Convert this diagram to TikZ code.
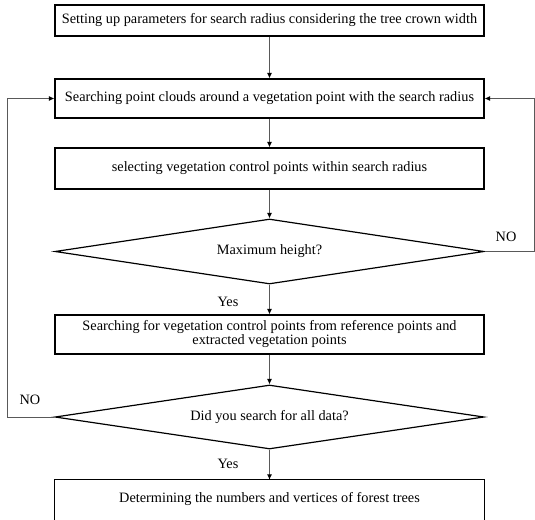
\documentclass[tikz,border=0pt]{standalone}
\usepackage{fontspec}
\setmainfont{Liberation Serif}
\usetikzlibrary{arrows.meta,shapes.geometric}
\begin{document}
\begin{tikzpicture}[x=1pt,y=-1pt,
  font=\fontsize{14.3}{15.5}\selectfont,
  box/.style={draw=black,line width=1.2pt,minimum width=429pt,inner sep=0pt,align=center},
  dec/.style={draw=black,line width=1.2pt,diamond,shape aspect=6.6,minimum width=429pt,inner sep=0pt},
  conn/.style={draw=black!65,line width=0.9pt},
  arr/.style={conn,-{Latex[length=5.5pt,width=5pt,color=black]}},
  lab/.style={inner sep=0pt}]
\useasboundingbox (0,0) rectangle (535,519);
\node[box,minimum height=31pt] (b1) at (269.5,20.5) {Setting up parameters for search radius considering the tree crown width};
\node[box,minimum height=39pt] (b2) at (269.5,98.5) {Searching point clouds around a vegetation point with the search radius};
\node[box,minimum height=41pt] (b3) at (269.5,168.5) {selecting vegetation control points within search radius};
\node[dec,minimum height=65pt] (d1) at (269.5,251.5) {Maximum height?};
\node[box,minimum height=39pt,align=center] (b4) at (269.5,334.5) {Searching for vegetation control points from reference points and\\[-1.5pt] extracted vegetation points};
\node[dec,minimum height=64pt] (d2) at (269.5,417) {Did you search for all data?};
\node[minimum width=429pt,minimum height=38pt,inner sep=0pt] (b5) at (269.5,499) {Determining the numbers and vertices of forest trees};
\draw[line width=1.2pt] ([yshift=-20pt]b5.south west) -- (b5.north west) -- (b5.north east) -- ([yshift=-20pt]b5.south east);
\coordinate (lc) at (7,417);
\coordinate (rc) at (534,251.5);
\draw[arr] (b1) -- (b2);
\draw[arr] (b2) -- (b3);
\draw[arr] (b3) -- (d1);
\draw[arr] (d1) -- (b4);
\draw[arr] (b4) -- (d2);
\draw[arr] (d2) -- (b5);
\draw[arr] (d2.west) -- (lc) |- (b2.west);
\draw[arr] (d1.east) -- (rc) |- (b2.east);
\node[lab] (n1) at (506,237) {NO};
\node[lab] (n2) at (30,400) {NO};
\node[lab] (y1) at (228,302) {Yes};
\node[lab] (y2) at (228,464) {Yes};
\end{tikzpicture}
\end{document}
